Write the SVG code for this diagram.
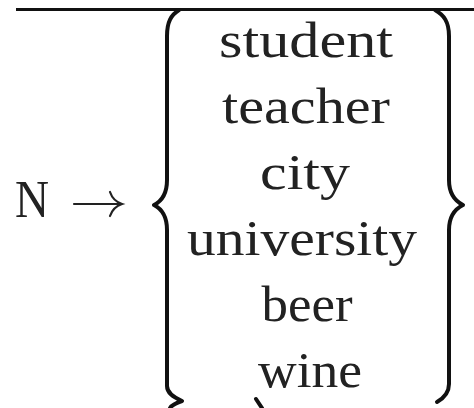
<svg xmlns="http://www.w3.org/2000/svg" width="474" height="408" viewBox="0 0 474 408">
  <style>
    .word { font-family: "Liberation Serif", "DejaVu Serif", serif; font-size: 50px; fill: #222; text-anchor: middle; }
    .sym { font-family: "Liberation Serif", "DejaVu Serif", serif; font-size: 52px; fill: #222; }
    .brace { fill: none; stroke: #111; stroke-width: 4; stroke-linecap: round; stroke-linejoin: round; }
    .rule { stroke: #111; stroke-width: 3; }
    .arrow { fill: none; stroke: #222; stroke-width: 2.2; stroke-linecap: round; }
  </style>

  <!-- rule across the top -->
  <line class="rule" x1="16" y1="9.5" x2="474" y2="9.5"/>

  <!-- left-hand side of the production -->
  <g id="lhs">
    <text class="sym" x="15" y="217" textLength="34" lengthAdjust="spacingAndGlyphs">N</text>
    <path class="arrow" d="M74 204 H121"/>
    <path class="arrow" d="M110 192 C112 198 116 202 122 204 C116 206 112 210 110 216"/>
  </g>

  <!-- braces around the alternatives -->
  <g id="braces">
    <path class="brace" d="M179 10 C171 15 167 22 167 36 L167 180 C167 194 162 201 154 205 C162 209 167 216 167 230 L167 386 C167 393 173 397 182 401 C176 403 172 405 170 408"/>
    <path class="brace" d="M435 10 C444 15 449 22 449 36 L449 180 C449 194 455 201 463 205 C455 209 449 216 449 230 L449 384 C449 393 444 398 437 402"/>
    <path class="brace" d="M256 399 L262 408"/>
  </g>

  <!-- alternatives -->
  <g id="alternatives">
    <text class="word" x="306" y="57" textLength="174" lengthAdjust="spacingAndGlyphs">student</text>
    <text class="word" x="306" y="123" textLength="168" lengthAdjust="spacingAndGlyphs">teacher</text>
    <text class="word" x="305" y="189" textLength="90" lengthAdjust="spacingAndGlyphs">city</text>
    <text class="word" x="302" y="255" textLength="230" lengthAdjust="spacingAndGlyphs">university</text>
    <text class="word" x="307" y="321" textLength="91" lengthAdjust="spacingAndGlyphs">beer</text>
    <text class="word" x="310" y="387" textLength="104" lengthAdjust="spacingAndGlyphs">wine</text>
  </g>
</svg>
